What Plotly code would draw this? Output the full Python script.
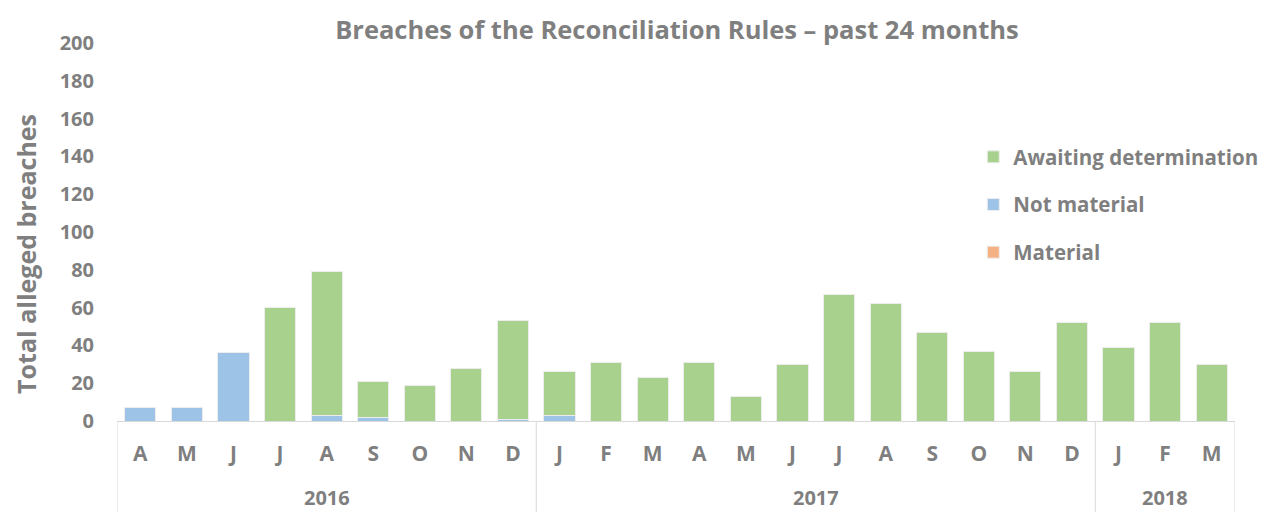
import plotly.graph_objects as go

years = ["2016"] * 9 + ["2017"] * 12 + ["2018"] * 3
months = ["A", "M", "J", "J", "A", "S", "O", "N", "D",
          "J", "F", "M", "A", "M", "J", "J", "A", "S", "O", "N", "D",
          "J", "F", "M"]
material = [0] * 24
not_material = [7, 7, 36, 0, 3, 2, 0, 0, 1,
                3, 0, 0, 0, 0, 0, 0, 0, 0, 0, 0, 0,
                0, 0, 0]
totals = [7, 7, 36, 60, 79, 21, 19, 28, 53,
          26, 31, 23, 31, 13, 30, 67, 62, 47, 37, 26, 52,
          39, 52, 30]
awaiting = [t - n - m for t, n, m in zip(totals, not_material, material)]

GRAY = "#7F7F7F"
LINE = "#D9D9D9"
FONT = "Open Sans"
idx = list(range(len(months)))

fig = go.Figure()
specs = [("Material", material, "#F4B183", 3),
         ("Not material", not_material, "#9DC3E6", 2),
         ("Awaiting determination", awaiting, "#A9D18E", 1)]
for name, vals, col, rank in specs:
    fig.add_trace(go.Bar(x=idx, y=vals, name=name, marker_color=col,
                         marker_line=dict(color="#EDEDED", width=1),
                         legendgroup=name, legendrank=rank))

# year groups: labels and dividers
groups = []
for i, yv in enumerate(years):
    if not groups or groups[-1][0] != yv:
        groups.append([yv, i, i])
    else:
        groups[-1][2] = i
shapes = []
annotations = []
bounds = sorted({g[1] - 0.5 for g in groups} | {g[2] + 0.5 for g in groups})
for b in bounds:
    shapes.append(dict(type="line", xref="x", yref="paper", x0=b, x1=b,
                       y0=0, y1=-0.25, line=dict(color=LINE, width=1)))
for yv, a, b in groups:
    annotations.append(dict(text=yv, xref="x", yref="paper", x=(a + b) / 2,
                            y=-0.202, yanchor="middle", showarrow=False,
                            font=dict(family=FONT, size=20, color=GRAY, weight="bold")))
annotations.append(dict(text="Total alleged breaches", textangle=-90,
                        xref="paper", yref="paper", x=-0.0815, y=0.4418,
                        xanchor="center", yanchor="middle", showarrow=False,
                        font=dict(family=FONT, size=25, color=GRAY, weight="bold")))

fig.update_layout(
    width=1261, height=504,
    barmode="stack", bargap=0.33,
    paper_bgcolor="white", plot_bgcolor="white",
    margin=dict(l=109, r=34, t=35, b=91, autoexpand=False),
    font=dict(family=FONT, color=GRAY, size=20, weight="bold"),
    title=dict(text="Breaches of the Reconciliation Rules – past 24 months",
               x=0.5305, xanchor="center", y=0.956, yanchor="middle",
               font=dict(family=FONT, size=25.5, color=GRAY, weight="bold")),
    legend=dict(xref="container", yref="container", x=0.7655, xanchor="left",
                y=0.744, yanchor="top",
                traceorder="grouped", tracegroupgap=18,
                font=dict(family=FONT, size=20.5, color=GRAY, weight="bold"),
                bgcolor="rgba(0,0,0,0)"),
    showlegend=True,
    shapes=shapes,
    annotations=annotations,
)
fig.update_xaxes(range=[-0.5, len(months) - 0.5], tickmode="array",
                 tickvals=idx, ticktext=months,
                 showline=True, linecolor=LINE, linewidth=1,
                 ticks="outside", ticklen=14, tickcolor="rgba(0,0,0,0)",
                 tickfont=dict(family=FONT, size=21, color=GRAY, weight="bold"),
                 showgrid=False, zeroline=False)
fig.update_yaxes(range=[0, 200], dtick=20, showgrid=False, zeroline=False,
                 showline=False, ticks="outside", ticklen=18,
                 tickcolor="rgba(0,0,0,0)",
                 tickfont=dict(family=FONT, size=20, color=GRAY, weight="bold"))

fig.write_html("out.html")
